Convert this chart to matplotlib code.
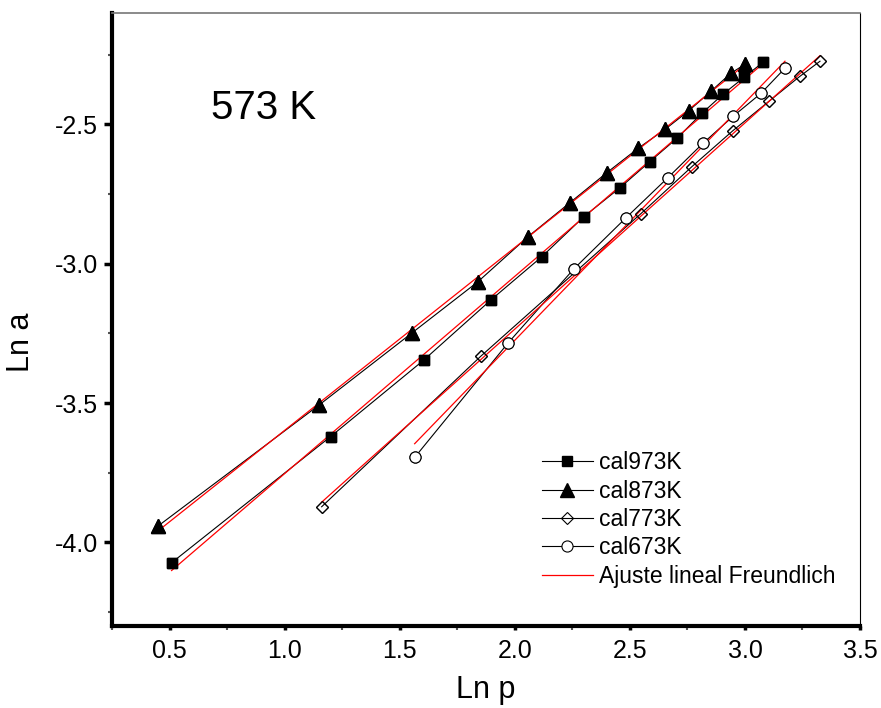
import numpy as np
import matplotlib
matplotlib.use('Agg')
import matplotlib.pyplot as plt
from matplotlib.ticker import MultipleLocator

plt.rcParams['font.family'] = ['Liberation Sans', 'DejaVu Sans']
plt.rcParams['axes.unicode_minus'] = False

# data (Ln p, Ln a)
x973 = [0.509, 1.200, 1.604, 1.896, 2.117, 2.300, 2.457, 2.587, 2.704, 2.813, 2.904, 2.996, 3.078]
y973 = [-4.073, -3.620, -3.346, -3.130, -2.975, -2.831, -2.727, -2.633, -2.550, -2.460, -2.392, -2.331, -2.277]

x873 = [0.452, 1.148, 1.552, 1.839, 2.057, 2.239, 2.400, 2.535, 2.652, 2.757, 2.852, 2.939, 3.000]
y873 = [-3.940, -3.508, -3.249, -3.065, -2.903, -2.781, -2.673, -2.586, -2.518, -2.450, -2.381, -2.316, -2.284]

x773 = [1.161, 1.852, 2.548, 2.770, 2.948, 3.104, 3.239, 3.326]
y773 = [-3.872, -3.332, -2.820, -2.651, -2.522, -2.417, -2.327, -2.273]

x673 = [1.565, 1.970, 2.257, 2.483, 2.665, 2.817, 2.948, 3.070, 3.174]
y673 = [-3.695, -3.285, -3.018, -2.835, -2.691, -2.568, -2.471, -2.388, -2.298]

labels = ['cal973K', 'cal873K', 'cal773K', 'cal673K']
fit_label = 'Ajuste lineal Freundlich'

series = [
    (x973, y973, dict(marker='s', ms=7, mfc='black', mec='black')),
    (x873, y873, dict(marker='^', ms=9.5, mfc='black', mec='black')),
    (x773, y773, dict(marker='D', ms=6.3, mfc='none', mec='black', mew=0.8)),
    (x673, y673, dict(marker='o', ms=8, mfc='white', mec='black', mew=0.8)),
]

fig = plt.figure(figsize=(8.81, 7.08), dpi=100)
ax = fig.add_axes([0.1271, 0.1158, 0.8491, 0.8658])

handles = []
for (xs, ys, st), lab in zip(series, labels):
    h, = ax.plot(xs, ys, color='black', lw=0.8, label=lab, zorder=2, **st)
    handles.append(h)

# linear Freundlich fits
for xs, ys, st in series:
    k, b = np.polyfit(xs, ys, 1)
    xf = np.array([min(xs), max(xs)])
    fl, = ax.plot(xf, k * xf + b, color='red', lw=0.9, zorder=3)
handles.append(fl)

# markers on top of the fit lines
for xs, ys, st in series:
    ax.plot(xs, ys, ls='none', zorder=4, **st)

ax.set_xlim(0.25, 3.5)
ax.set_ylim(-4.3, -2.1)
ax.xaxis.set_major_locator(MultipleLocator(0.5))
ax.xaxis.set_minor_locator(MultipleLocator(0.25))
ax.yaxis.set_major_locator(MultipleLocator(0.5))
ax.yaxis.set_minor_locator(MultipleLocator(0.25))

ax.spines['left'].set_linewidth(3)
ax.spines['bottom'].set_linewidth(3)
ax.spines['top'].set_linewidth(1.2)
ax.spines['top'].set_color('#777777')
ax.spines['right'].set_linewidth(0.8)

ax.tick_params(axis='both', which='major', direction='out', width=2.5, labelsize=18)
ax.tick_params(axis='x', which='major', length=3, pad=6)
ax.tick_params(axis='y', which='major', length=6, pad=4)
ax.tick_params(axis='both', which='minor', direction='out', length=3, width=1.5, color='#555555')

ax.set_xlabel('Ln p', fontsize=22, labelpad=9)
ax.set_ylabel('Ln a', fontsize=22)
ax.yaxis.set_label_coords(-0.102, 0.463)

ax.text(0.203, 0.845, '573 K', transform=ax.transAxes, fontsize=29,
        ha='center', va='center')

ax.legend(handles, labels + [fit_label], loc='upper left',
          bbox_to_anchor=(0.575, 0.285), frameon=False, fontsize=16.5,
          borderpad=0, borderaxespad=0, handlelength=2.2,
          handletextpad=0.3, labelspacing=0.235)

fig.savefig('out.png', dpi=100)
